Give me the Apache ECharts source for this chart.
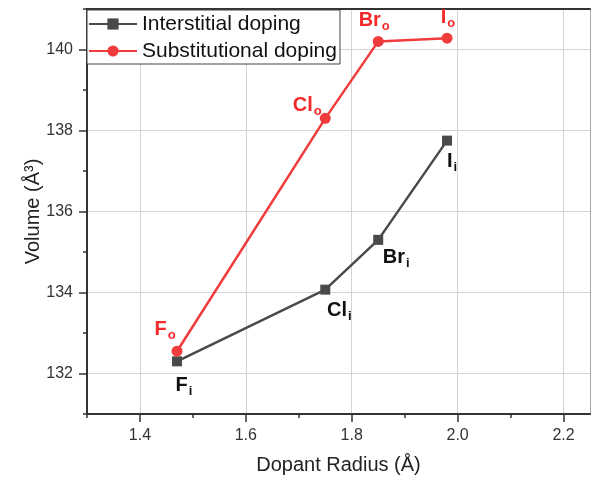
<!DOCTYPE html>
<html>
<head>
<meta charset="utf-8">
<script src="https://cdn.jsdelivr.net/npm/echarts@6/dist/echarts.min.js"></script>
<style>
  html, body { margin: 0; padding: 0; background: #fff; }
  #chart { width: 591px; height: 480px; }
</style>
</head>
<body>
<div id="chart"></div>
<script>
const radius = [1.47, 1.75, 1.85, 1.98];
const elements = ['F', 'Cl', 'Br', 'I'];
const interstitial = [132.3, 134.07, 135.3, 137.75];
const substitutional = [132.55, 138.3, 140.2, 140.28];

const xMajor = [1.4, 1.6, 1.8, 2.0, 2.2];
const xMinor = [1.3, 1.5, 1.7, 1.9, 2.1];
const yMajor = [132, 134, 136, 138, 140];
const yMinor = [131, 133, 135, 137, 139, 141];

// label placement relative to each point (px)
const interOffsets = [[7, 24], [14, 21], [18, 18], [5, 21]];
const substOffsets = [[-12, -22], [-18, -13], [-4, -21], [1, -21]];

const FONT = 'Liberation Sans, Arial, sans-serif';
const GRAY = '#4a4a4a';
const RED = '#f03c3c';

function richLabel(color) {
  return {
    b: { fontSize: 20, fontWeight: 'bold', color: color, fontFamily: FONT, lineHeight: 22 },
    s: { fontSize: 13, fontWeight: 'bold', color: color, fontFamily: FONT, padding: [12, 0, 0, 1] }
  };
}

function buildData(values, sub, offsets, color) {
  return values.map((v, i) => ({
    value: [radius[i], v],
    label: {
      show: true,
      position: 'inside',
      offset: offsets[i],
      formatter: '{b|' + elements[i] + '}{s|' + sub + '}',
      rich: richLabel(color)
    }
  }));
}

const chart = echarts.init(document.getElementById('chart'));

const axisLineStyle = { color: '#333', width: 2 };

chart.setOption({
  animation: false,
  grid: { left: 87, right: 1, top: 9, bottom: 66 },
  legend: {
    orient: 'vertical',
    left: 87,
    top: 10,
    padding: [3, 3, 2, 1],
    itemWidth: 48,
    itemHeight: 14,
    itemGap: 5,
    borderColor: '#444',
    borderWidth: 1,
    backgroundColor: '#fff',
    textStyle: { fontSize: 21, fontFamily: FONT, color: '#111', lineHeight: 22 },
    data: ['Interstitial doping', 'Substitutional doping']
  },
  xAxis: [
    {
      type: 'value', min: 1.3, max: 2.25, position: 'bottom',
      name: 'Dopant Radius (Å)', nameLocation: 'middle', nameGap: 41,
      nameTextStyle: { fontSize: 20, fontFamily: FONT, color: '#222' },
      axisLine: { onZero: false, lineStyle: axisLineStyle },
      axisTick: { inside: false, length: 8, customValues: xMajor, lineStyle: { color: '#333', width: 1.5 } },
      axisLabel: { customValues: xMajor, margin: 14, fontSize: 16, fontFamily: FONT, color: '#333',
        formatter: v => v.toFixed(1) },
      splitLine: { show: true, lineStyle: { color: '#d4d4d4', width: 1 } }
    },
    {
      type: 'value', min: 1.3, max: 2.25, position: 'bottom',
      axisLine: { show: false },
      axisTick: { length: 4, customValues: xMinor, lineStyle: { color: '#333', width: 1.5 } },
      axisLabel: { show: false },
      splitLine: { show: false }
    },
    {
      type: 'value', min: 1.3, max: 2.25, position: 'top',
      axisLine: { onZero: false, lineStyle: axisLineStyle },
      axisTick: { show: false }, axisLabel: { show: false }, splitLine: { show: false }
    }
  ],
  yAxis: [
    {
      type: 'value', min: 131, max: 141, position: 'left',
      name: 'Volume (Å³)', nameLocation: 'middle', nameGap: 44, nameMoveOverlap: false,
      nameTextStyle: { fontSize: 20, fontFamily: FONT, color: '#222' },
      axisLine: { show: true, onZero: false, lineStyle: axisLineStyle },
      axisTick: { show: true, length: 8, customValues: yMajor, lineStyle: { color: '#333', width: 1.5 } },
      axisLabel: { customValues: yMajor, margin: 14, fontSize: 16, fontFamily: FONT, color: '#333' },
      splitLine: { show: true, lineStyle: { color: '#d4d4d4', width: 1 } }
    },
    {
      type: 'value', min: 131, max: 141, position: 'left',
      axisLine: { show: false },
      axisTick: { show: true, length: 4, customValues: yMinor, lineStyle: { color: '#333', width: 1.5 } },
      axisLabel: { show: false },
      splitLine: { show: false }
    },
    {
      type: 'value', min: 131, max: 141, position: 'right',
      axisLine: { show: true, onZero: false, lineStyle: { color: '#aaa', width: 1 } },
      axisTick: { show: false }, axisLabel: { show: false }, splitLine: { show: false }
    }
  ],
  series: [
    {
      name: 'Interstitial doping',
      type: 'line',
      symbol: 'rect',
      symbolSize: 10,
      itemStyle: { color: GRAY },
      lineStyle: { color: GRAY, width: 2.5 },
      data: buildData(interstitial, 'i', interOffsets, '#111')
    },
    {
      name: 'Substitutional doping',
      type: 'line',
      symbol: 'circle',
      symbolSize: 11,
      itemStyle: { color: RED },
      lineStyle: { color: RED, width: 2.5 },
      data: buildData(substitutional, 'o', substOffsets, '#f42a2a')
    }
  ]
});
</script>
</body>
</html>
